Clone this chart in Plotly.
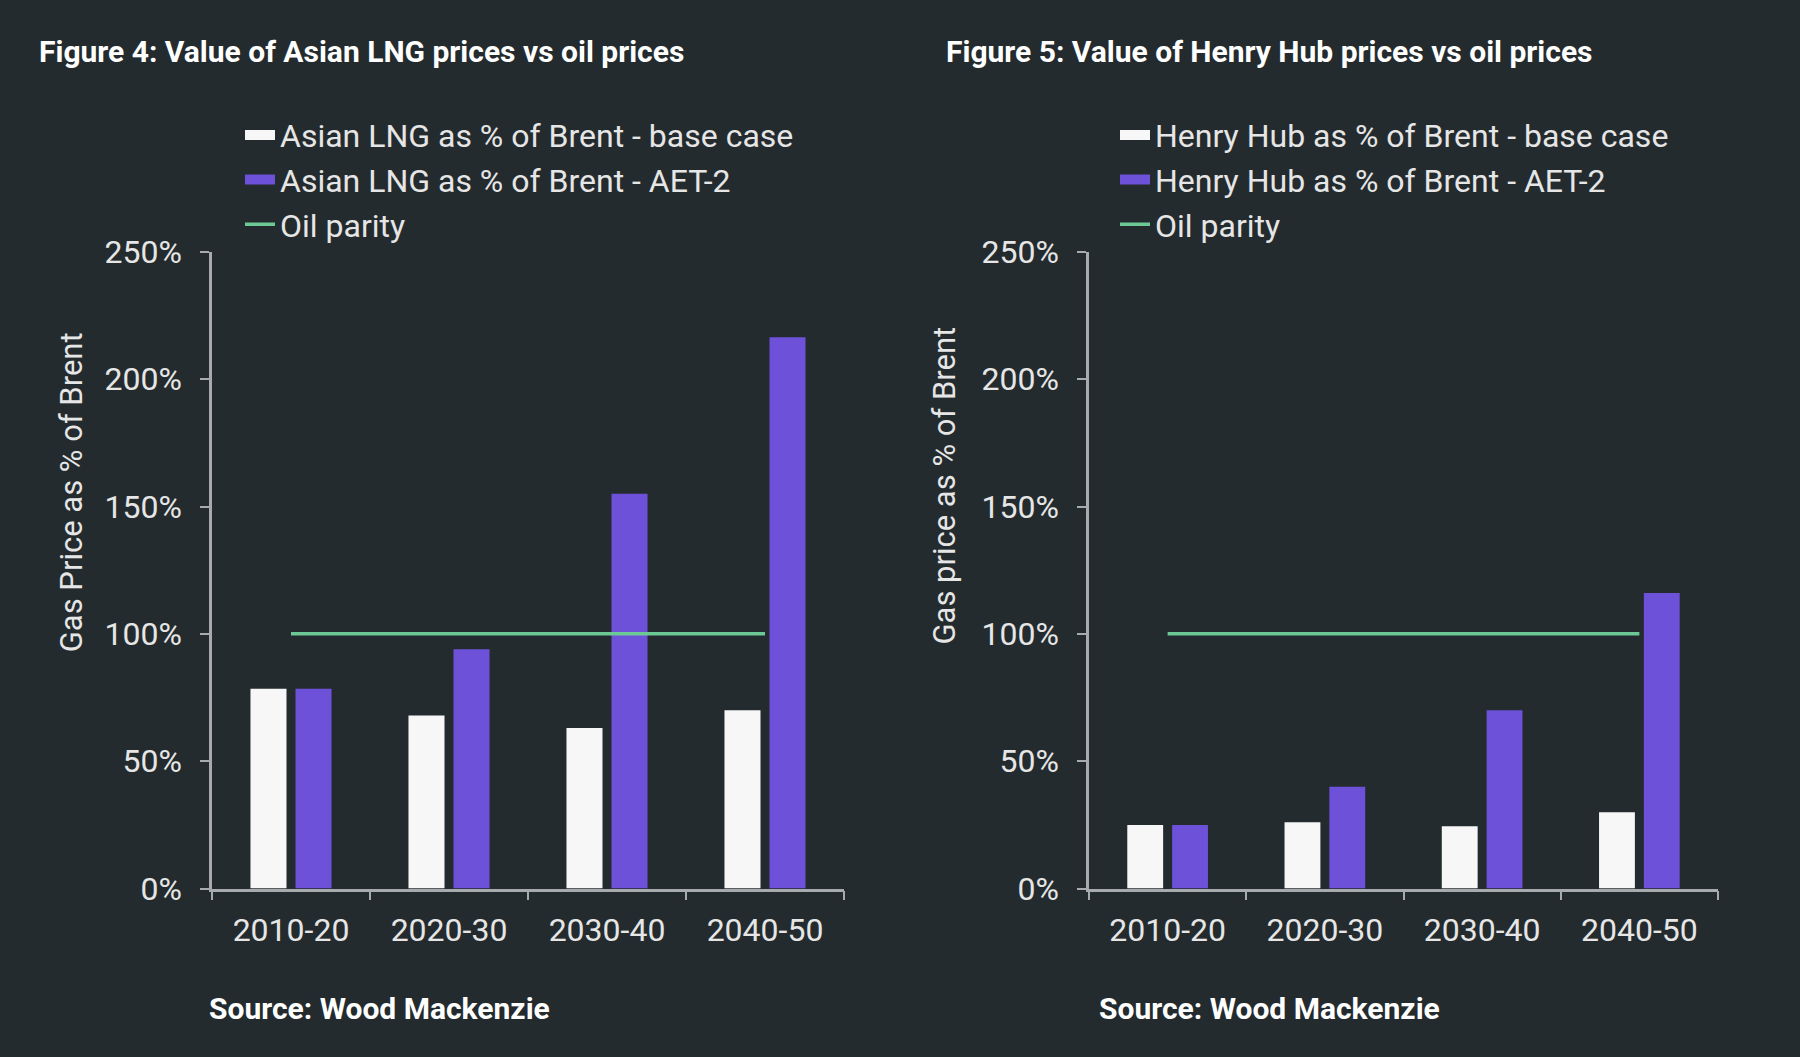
import plotly.graph_objects as go

categories = ["2010-20", "2020-30", "2030-40", "2040-50"]

lng_base = [78.5, 68, 63, 70]
lng_aet2 = [78.5, 94, 155, 216.5]
hh_base = [25, 26, 24.5, 30]
hh_aet2 = [25, 40, 70, 116]
oil_parity = [100, 100, 100, 100]

y_ticks = [0, 50, 100, 150, 200, 250]
y_tick_text = ["0%", "50%", "100%", "150%", "200%", "250%"]

BG = "#242b2e"
WHITE = "#f7f7f7"
PURPLE = "#6d51d8"
GREEN = "#6cc996"
AXIS = "#a7abad"
TEXT = "#e6e6e6"
FONT = "Roboto, Arial, sans-serif"
BOLD_FONT = "Roboto, Arial, sans-serif"

W, H = 1800, 1057

fig = go.Figure()


def add_panel(base, aet2, names, xa, ya, legend):
    fig.add_trace(go.Bar(x=categories, y=base, name=names[0], marker=dict(color=WHITE, line=dict(width=0)),
                         xaxis=xa, yaxis=ya, showlegend=False, offsetgroup="a"))
    fig.add_trace(go.Bar(x=categories, y=aet2, name=names[1], marker=dict(color=PURPLE, line=dict(width=0)),
                         xaxis=xa, yaxis=ya, showlegend=False, offsetgroup="b"))
    fig.add_trace(go.Scatter(x=categories, y=oil_parity, name="Oil parity", mode="lines",
                             line=dict(color=GREEN, width=3.5), xaxis=xa, yaxis=ya, showlegend=False))
    # legend entries with wide swatches like the original
    for nm, col, w, g in [(names[0], WHITE, 15, "a"), (names[1], PURPLE, 15, "b"), ("Oil parity", GREEN, 3.5, "c")]:
        fig.add_trace(go.Scatter(x=[None], y=[None], name=nm, mode="lines", line=dict(color=col, width=w),
                                 xaxis=xa, yaxis=ya, legend=legend, legendgroup=legend + g,
                                 hoverinfo="skip", showlegend=True))


add_panel(lng_base, lng_aet2, ["Asian LNG as % of Brent - base case", "Asian LNG as % of Brent - AET-2"],
          "x", "y", "legend")
add_panel(hh_base, hh_aet2, ["Henry Hub as % of Brent - base case", "Henry Hub as % of Brent - AET-2"],
          "x2", "y2", "legend2")


def px_x(p):
    return p / W


def px_y(p):
    return 1 - p / H


y_dom = [px_y(902), px_y(241.5)]

xaxis_common = dict(
    type="category", range=[-0.5, 3.5], showgrid=False, zeroline=False,
    showline=True, linecolor=AXIS, linewidth=2.5,
    ticks="outside", tickson="boundaries", ticklen=9, tickwidth=2, tickcolor=AXIS,
    tickfont=dict(family=FONT, size=32, color=TEXT), ticklabelstandoff=11,
    fixedrange=True,
)
yaxis_common = dict(
    range=[0, 250], showgrid=False, zeroline=False,
    showline=True, linecolor=AXIS, linewidth=2.5,
    ticks="outside", ticklen=9, tickwidth=2, tickcolor=AXIS,
    tickvals=y_ticks, ticktext=y_tick_text,
    tickfont=dict(family=FONT, size=32, color=TEXT), ticklabelstandoff=12,
    domain=y_dom, fixedrange=True,
)

legend_common = dict(
    font=dict(family=FONT, size=32, color=TEXT),
    bgcolor="rgba(0,0,0,0)", borderwidth=0,
    xanchor="left", yanchor="top", tracegroupgap=7,
    traceorder="normal", itemwidth=30,
)

fig.update_layout(
    width=W, height=H,
    margin=dict(l=0, r=0, t=0, b=0),
    paper_bgcolor=BG, plot_bgcolor=BG,
    barmode="group", bargap=0.43, bargroupgap=0.2,
    xaxis=dict(domain=[px_x(212), px_x(844)], anchor="y", **xaxis_common),
    yaxis=dict(anchor="x", **yaxis_common),
    xaxis2=dict(domain=[px_x(1089), px_x(1718)], anchor="y2", **xaxis_common),
    yaxis2=dict(anchor="x2", **yaxis_common),
    legend=dict(x=px_x(240), y=px_y(92), **legend_common),
    legend2=dict(x=px_x(1115), y=px_y(92), **legend_common),
    showlegend=True,
)

annotations = [
    dict(text="Figure 4: Value of Asian LNG prices vs oil prices", x=px_x(37), y=px_y(34),
         xanchor="left", yanchor="middle", font=dict(family=BOLD_FONT, size=30, color="#ffffff", weight="bold")),
    dict(text="Figure 5: Value of Henry Hub prices vs oil prices", x=px_x(944), y=px_y(34),
         xanchor="left", yanchor="middle", font=dict(family=BOLD_FONT, size=30, color="#ffffff", weight="bold")),
    dict(text="Source: Wood Mackenzie", x=px_x(207), y=px_y(1026),
         xanchor="left", yanchor="middle", font=dict(family=BOLD_FONT, size=30, color="#ffffff", weight="bold")),
    dict(text="Source: Wood Mackenzie", x=px_x(1097), y=px_y(1026),
         xanchor="left", yanchor="middle", font=dict(family=BOLD_FONT, size=30, color="#ffffff", weight="bold")),
    dict(text="Gas Price as % of Brent", x=px_x(71), y=px_y(491), textangle=-90,
         xanchor="center", yanchor="middle", font=dict(family=FONT, size=31, color=TEXT)),
    dict(text="Gas price as % of Brent", x=px_x(945), y=px_y(484), textangle=-90,
         xanchor="center", yanchor="middle", font=dict(family=FONT, size=31, color=TEXT)),
]
for a in annotations:
    a.update(xref="paper", yref="paper", showarrow=False)
fig.update_layout(annotations=annotations)

fig.write_html("out.html", config={"displayModeBar": False},
               post_script="document.body.style.margin='0';document.body.style.overflow='hidden';")
